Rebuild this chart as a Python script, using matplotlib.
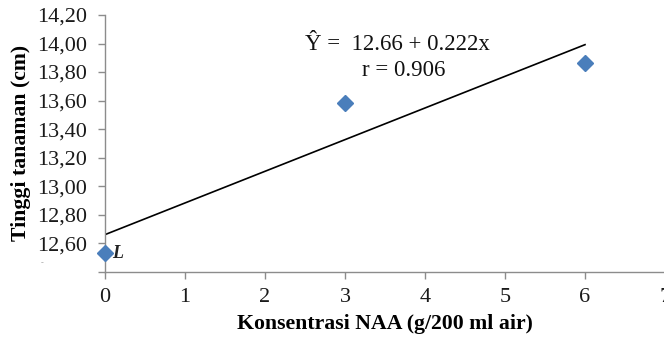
import matplotlib
matplotlib.use("Agg")
import matplotlib.pyplot as plt
import numpy as np

# Data
x_vals = [0, 3, 6]
y_vals = [12.53, 13.58, 13.86]
intercept = 12.66
slope = 0.222
line_x = [0, 6]
y_ticks = [12.40, 12.60, 12.80, 13.00, 13.20, 13.40, 13.60, 13.80, 14.00, 14.20]
y_tick_labels = ["", "12,60", "12,80", "13,00", "13,20", "13,40", "13,60", "13,80", "14,00", "14,20"]
x_ticks = [0, 1, 2, 3, 4, 5, 6, 7]

serif = ["Liberation Serif", "DejaVu Serif"]

W, H = 664, 341
fig = plt.figure(figsize=(W / 100, H / 100), dpi=100)
ax = fig.add_axes([105 / W, 1 - 271.7 / H, 560 / W, (271.7 - 15) / H])

line_y = [intercept + slope * v for v in line_x]
ax.plot(line_x, line_y, color="black", lw=1.2, zorder=2)
ax.plot(x_vals, y_vals, linestyle="none", marker="D", markersize=8,
        color="#4a7ebb", markeredgecolor="#4a7ebb", zorder=3, clip_on=False)

ax.set_xlim(0, 7)
ax.set_ylim(12.40, 14.20)
ax.set_xticks(x_ticks)
ax.set_xticklabels([str(v) for v in x_ticks], fontfamily=serif, fontsize=16)
ax.set_yticks(y_ticks)
ax.set_yticklabels(y_tick_labels, fontfamily=serif, fontsize=16)

for s in ["top", "right"]:
    ax.spines[s].set_visible(False)
for s in ["left", "bottom"]:
    ax.spines[s].set_color("#8c8c8c")
    ax.spines[s].set_linewidth(1.0)
ax.tick_params(axis="both", direction="out", length=5, width=1.0, color="#8c8c8c",
               labelcolor="#1a1a1a")
ax.tick_params(axis="x", pad=7)
ax.tick_params(axis="y", pad=8)

ax.set_xlabel("Konsentrasi NAA (g/200 ml air)", fontfamily=serif, fontsize=15.7,
              fontweight="bold", labelpad=5)
ax.set_ylabel("Tinggi tanaman (cm)", fontfamily=serif, fontsize=15.7,
              fontweight="bold", labelpad=4)

fig.text(305 / W, 1 - 45 / H, "Ŷ =  12.66 + 0.222x", fontfamily=serif, fontsize=16.5,
         ha="left", va="center", color="#111111")
fig.text(362 / W, 1 - 70 / H, "r = 0.906", fontfamily=serif, fontsize=16.5,
         ha="left", va="center", color="#111111")

fig.text(112 / W, 1 - 253 / H, "L", fontfamily=serif, fontsize=13, fontweight="bold",
         style="italic", ha="left", va="center", color="#222222")
fig.text(42 / W, 1 - 263 / H, "-", fontfamily=serif, fontsize=6,
         ha="center", va="center", color="#999999")

fig.savefig("out.png", dpi=100)
